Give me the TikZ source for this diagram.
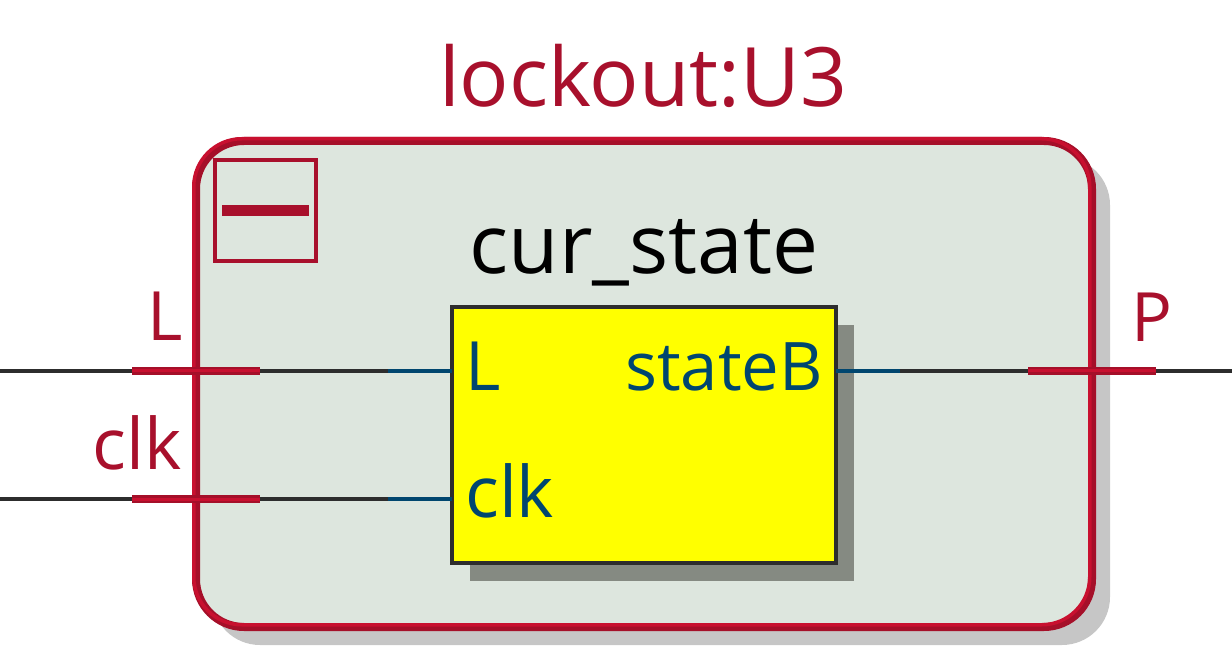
\documentclass[tikz,border=0pt]{standalone}
\usepackage{fontspec}
\setmainfont{Open Sans}
\definecolor{rdark}{HTML}{A50F29}
\definecolor{rlight}{HTML}{C8102F}
\definecolor{rtext}{HTML}{A8102C}
\definecolor{wire}{HTML}{2D2D2D}
\definecolor{bluew}{HTML}{00466F}
\definecolor{boxfill}{HTML}{DDE6DE}
\definecolor{outshadow}{HTML}{C6C6C6}
\definecolor{inshadow}{HTML}{858A82}
\definecolor{pureyellow}{RGB}{255,255,0}
\tikzset{
  wireline/.style={draw=wire,line width=4pt},
  bluewire/.style={draw=bluew,line width=4pt},
  portbase/.style={draw=rdark,line width=8pt},
  porttop/.style={draw=rlight,line width=3pt,yshift=2.5pt},
  lab/.style={inner sep=0pt,font=\fontsize{68}{68}\selectfont},
  cliplab/.style={inner sep=0pt,font=\fontsize{71}{71}\selectfont},
  statelab/.style={inner sep=0pt,font=\fontsize{67}{67}\selectfont},
  biglab/.style={inner sep=0pt,font=\fontsize{82}{82}\selectfont},
}
\begin{document}
\begin{tikzpicture}[x=1pt,y=-1pt]
\useasboundingbox (0,0) rectangle (1232,668);
% outer box shadow, fill, bevelled border
\fill[outshadow,rounded corners=48pt] (212,157) rectangle (1110,645);
\fill[boxfill,rounded corners=48pt] (196,141) rectangle (1092,627);
\draw[rdark,line width=8pt,rounded corners=48pt] (196,141) rectangle (1092,627);
\draw[rlight,line width=3.5pt,rounded corners=48pt] (193.75,138.75) rectangle (1089.75,624.75);
% collapse box
\node[draw=rtext,line width=4pt,minimum width=101pt,minimum height=101pt,inner sep=0pt] (toggle) at (265.5,210.5) {};
\fill[rtext] (222,205) rectangle (309,216);
% inner box
\fill[inshadow] (470,325) rectangle (854,581);
\node[draw=wire,fill=pureyellow,line width=4pt,minimum width=384pt,minimum height=256pt,inner sep=0pt,outer sep=0pt] (state) at (644,435) {};
% wire coordinates
\coordinate (Lin) at (0,371);
\coordinate (Lp1) at (132,371);
\coordinate (Lp2) at (260,371);
\coordinate (Lb) at (388,371);
\coordinate (Ce) at (0,499);
\coordinate (Cp1) at (132,499);
\coordinate (Cp2) at (260,499);
\coordinate (Cb) at (388,499);
\coordinate (Lt) at (state.west |- Lb);
\coordinate (Ct) at (state.west |- Cb);
\coordinate (St) at (state.east |- Lb);
\coordinate (Pb) at (900,371);
\coordinate (Pp1) at (1028,371);
\coordinate (Pp2) at (1156,371);
\coordinate (Pout) at (1232,371);
% wires
\draw[wireline] (Lin) -- (Lp1);
\draw[wireline] (Lp2) -- (Lb);
\draw[bluewire] (Lb) -- (Lt);
\draw[wireline] (Ce) -- (Cp1);
\draw[wireline] (Cp2) -- (Cb);
\draw[bluewire] (Cb) -- (Ct);
\draw[bluewire] (St) -- (Pb);
\draw[wireline] (Pb) -- (Pp1);
\draw[wireline] (Pp2) -- (Pout);
% ports
\draw[portbase] (Lp1) -- (Lp2);
\draw[porttop] (Lp1) -- (Lp2);
\draw[portbase] (Cp1) -- (Cp2);
\draw[porttop] (Cp1) -- (Cp2);
\draw[portbase] (Pp1) -- (Pp2);
\draw[porttop] (Pp1) -- (Pp2);
% labels
\node[biglab,text=rtext,anchor=base] (title) at (643,107) {lockout:U3};
\node[biglab,text=black,anchor=base] (inst) at (644,274) {cur\_state};
\node[lab,text=rtext,anchor=base east] (Lname) at (183,341) {L};
\node[cliplab,text=rtext,anchor=base east] (Cname) at (182,469) {clk};
\node[lab,text=rtext,anchor=base west] (Pname) at (1131,342) {P};
\node[lab,text=bluew,anchor=base west] (Lpin) at (465,390) {L};
\node[cliplab,text=bluew,anchor=base west] (Cpin) at (465,517) {clk};
\node[statelab,text=bluew,anchor=base east] (Spin) at (823,390) {stateB};
\end{tikzpicture}
\end{document}
